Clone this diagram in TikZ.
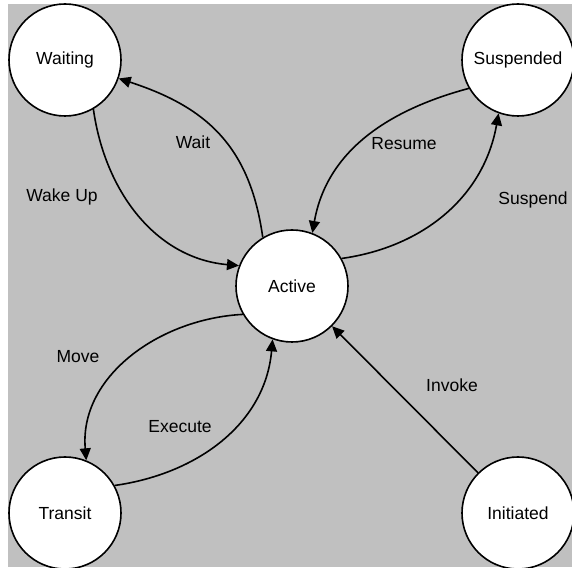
\documentclass[tikz,border=0pt]{standalone}
\usepackage{fontspec}
\setmainfont{Liberation Sans}
\usetikzlibrary{arrows.meta}
\definecolor{bg}{RGB}{192,192,192}
\begin{document}
\begin{tikzpicture}[x=1pt,y=1pt,
  state/.style={circle,draw=black,line width=1.6pt,fill=white,minimum size=112pt,inner sep=0pt,
    font=\fontsize{17.5}{20}\selectfont},
  lbl/.style={font=\fontsize{17.5}{20}\selectfont,inner sep=0pt},
  edge/.style={line width=1.6pt,-{Triangle[length=12pt,width=11pt]}}]
\useasboundingbox (0,0) rectangle (572,567);
\fill[bg] (8,0) rectangle (572,563);
\begin{scope}
\clip (8,0) rectangle (572,563);
\node[state] (w) at (65,507) {Waiting};
\node[state] (s) at (518,507) {Suspended};
\node[state] (a) at (292,281) {Active};
\node[state] (t) at (65,54) {Transit};
\node[state] (i) at (518,54) {Initiated};

\draw[edge] (a.121) to[out=98,in=-18,looseness=1.1] (w.-19);
\draw[edge] (w.-60) to[out=-82,in=175] (a.159);
\draw[edge] (a.29) to[out=8,in=-100] (s.-110);
\draw[edge] (s.210) to[out=195,in=80] (a.69);
\draw[edge] (a.210) to[out=183,in=95] (t.68);
\draw[edge] (t.29) to[out=8,in=-95] (a.-110);
\draw[edge] (i) -- (a);

\node[lbl] (lwait) at (193,425) {Wait};
\node[lbl] (lwake) at (62,370) {Wake Up};
\node[lbl] (lres) at (404,423) {Resume};
\node[lbl] (lsus) at (533,367) {Suspend};
\node[lbl] (lmove) at (78,210) {Move};
\node[lbl] (lexe) at (180,140) {Execute};
\node[lbl] (linv) at (452,182) {Invoke};
\end{scope}
\end{tikzpicture}
\end{document}
